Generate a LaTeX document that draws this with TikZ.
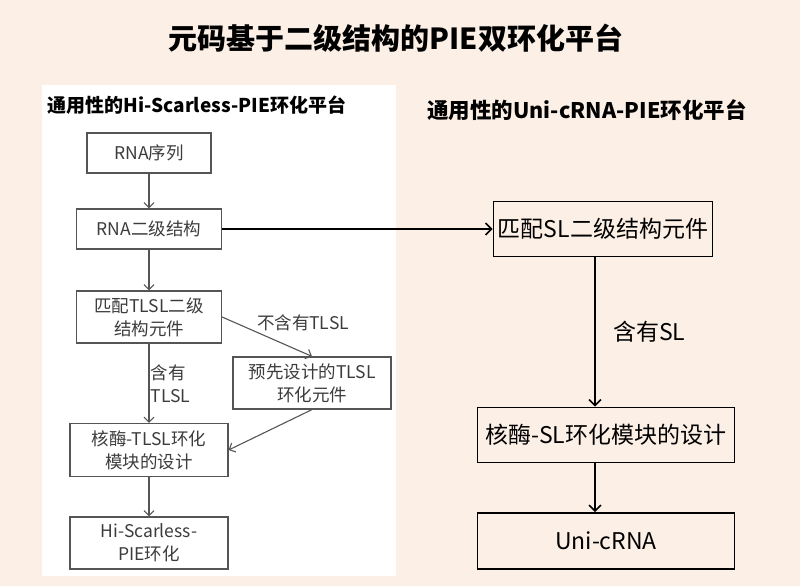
\documentclass[tikz,border=0pt]{standalone}
\usepackage{fontspec}
\setmainfont{Noto Sans CJK SC}
\definecolor{peachbg}{RGB}{252,239,230}
\definecolor{boxgray}{RGB}{85,85,85}
\definecolor{textgray}{RGB}{60,60,60}
\usetikzlibrary{positioning,arrows,arrows.meta,calc}
\tikzset{
  lbox/.style={draw=boxgray, line width=1.2pt, text=textgray, align=center,
    font=\fontsize{17.5}{23}\selectfont, inner sep=1pt},
  rbox/.style={draw=black, line width=1.8pt, align=center,
    font=\fontsize{23}{26}\selectfont, inner sep=1pt},
  larrow/.style={-{Straight Barb[length=5pt,width=10pt]}, draw=boxgray, line width=1.1pt},
  rarrow/.style={-{Straight Barb[length=6pt,width=12pt]}, draw=black, line width=1.5pt},
  lbl/.style={text=textgray, font=\fontsize{17.5}{23}\selectfont, inner sep=1pt},
}

\begin{document}
\begin{tikzpicture}[x=1pt,y=-1pt]
    % Background and panel
    \useasboundingbox (0,0) rectangle (800,586);
    \fill[peachbg] (0,0) rectangle (800,586);
    \fill[white] (42,85) rectangle (396,576);

    % Headings
    \node (title) at (396,38) {\fontsize{29}{32}\selectfont\bfseries 元码基于二级结构的PIE双环化平台};
    \node (lhead) at (197,105) {\fontsize{19}{22}\selectfont\bfseries 通用性的Hi-Scarless-PIE环化平台};
    \node (rhead) at (587,110) {\fontsize{21.5}{24}\selectfont\bfseries 通用性的Uni-cRNA-PIE环化平台};

    % Hi-Scarless-PIE flow
    \node[lbox, minimum width=124, minimum height=40] (seq) at (149,153) {RNA序列};
    \node[lbox, minimum width=145, minimum height=40] (sec) at (149,229) {RNA二级结构};
    \node[lbox, minimum width=145, minimum height=52] (mat) at (149,317) {匹配TLSL二级\\结构元件};
    \node[lbox, minimum width=158, minimum height=52] (pre) at (312,383) {预先设计的TLSL\\环化元件};
    \node[lbox, minimum width=158, minimum height=53] (rib) at (149,450) {核酶-TLSL环化\\模块的设计};
    \node[lbox, minimum width=158, minimum height=52] (hsp) at (149,543) {Hi-Scarless-\\PIE环化};

    \draw[larrow] (seq) -- (sec);
    \draw[larrow] (sec) -- (mat);
    \draw[larrow] (mat) -- node[lbl, right, align=left] (yes) {含有\\TLSL} (rib);
    \draw[larrow] (mat.east) -- (pre.north);
    \node[lbl] (no) at (303,323) {不含有TLSL};
    \draw[larrow] (pre.south) -- (rib.east);
    \draw[larrow] (rib) -- (hsp);

    % Uni-cRNA-PIE flow
    \node[rbox, minimum width=219, minimum height=55] (msl) at (603,229) {匹配SL二级结构元件};
    \node[rbox, minimum width=257, minimum height=55] (rsl) at (606,435) {核酶-SL环化模块的设计};
    \node[rbox, minimum width=257, minimum height=56] (uni) at (606,541) {Uni-cRNA};

    \draw[rarrow] (sec.east) -- (msl.west);
    \draw[rarrow] ([xshift=-8]msl.south) -- node[right=14, font=\fontsize{23}{26}\selectfont] (has) {含有SL} ([xshift=-8]msl.south |- rsl.north);
    \draw[rarrow] ([xshift=-11]rsl.south) -- ([xshift=-11]uni.north);
\end{tikzpicture}
\end{document}
